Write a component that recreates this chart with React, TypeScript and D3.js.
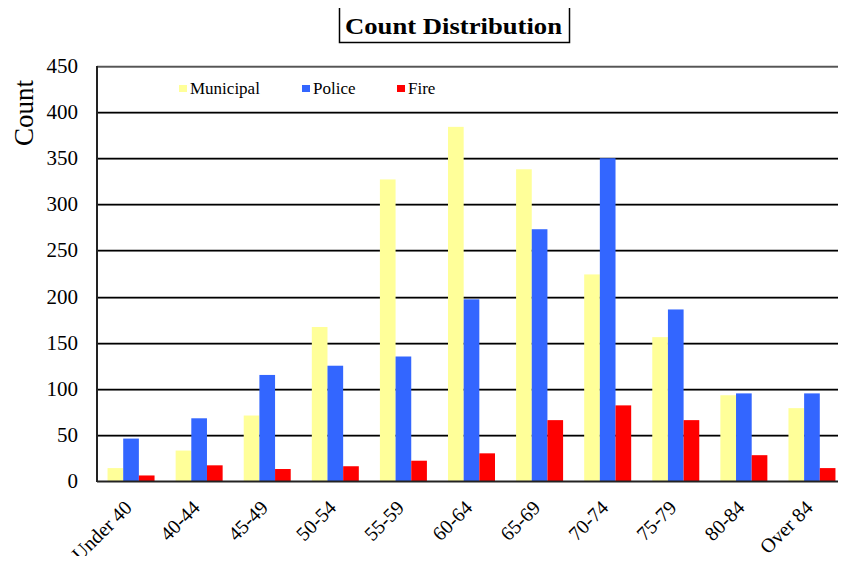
import { useEffect, useRef } from 'react';
import * as d3 from 'd3';

const categories = ['Under 40', '40-44', '45-49', '50-54', '55-59', '60-64', '65-69', '70-74', '75-79', '80-84', 'Over 84'];
const municipal = [14, 33, 71, 167, 327, 384, 338, 224, 156, 93, 79];
const police = [46, 68, 115, 125, 135, 197, 273, 350, 186, 95, 95];
const fire = [6, 17, 13, 16, 22, 30, 66, 82, 66, 28, 14];
const yTicks = [0, 50, 100, 150, 200, 250, 300, 350, 400, 450];

const seriesNames = ['Municipal', 'Police', 'Fire'];
const seriesColors = ['#FFFF99', '#3366FF', '#FF0000'];

const App = () => {
  const ref = useRef<SVGSVGElement>(null);

  useEffect(() => {
    if (!ref.current) return;
    const svg = d3.select(ref.current);
    svg.selectAll('*').remove();
    const font = '"Liberation Serif", "Times New Roman", serif';
    const left = 97, right = 846, top = 66, bottom = 481;

    const x = d3.scaleBand<string>().domain(categories).range([left, right]);
    const y = d3.scaleLinear().domain([0, 450]).range([bottom, top]);
    const inner = d3.scaleBand<number>().domain([0, 1, 2]).range([0, 47]);
    const groupOffset = (x.bandwidth() - 47) / 2;

    // title with box
    svg.append('rect')
      .attr('x', 339.5).attr('y', 6.5)
      .attr('width', 230).attr('height', 36)
      .attr('fill', 'white').attr('stroke', 'black').attr('stroke-width', 1.5);
    svg.append('text')
      .attr('x', 345).attr('y', 34)
      .attr('textLength', 217).attr('lengthAdjust', 'spacingAndGlyphs')
      .style('font-family', font).style('font-weight', 'bold').style('font-size', '24px')
      .text('Count Distribution');

    // grid lines
    const grid = svg.append('g');
    yTicks.filter(t => t > 0).forEach(t => {
      grid.append('line')
        .attr('x1', left).attr('x2', right)
        .attr('y1', Math.round(y(t)) + 1.5).attr('y2', Math.round(y(t)) + 1.5)
        .attr('stroke', '#999').attr('stroke-width', 1);
      grid.append('line')
        .attr('x1', left).attr('x2', right)
        .attr('y1', Math.round(y(t)) + 0.5).attr('y2', Math.round(y(t)) + 0.5)
        .attr('stroke', t === 450 ? '#555' : 'black').attr('stroke-width', 1.5);
    });

    // bars
    const data = [municipal, police, fire];
    data.forEach((vals, s) => {
      svg.append('g').selectAll('rect')
        .data(vals)
        .enter()
        .append('rect')
        .attr('x', (d, i) => (x(categories[i]) ?? 0) + groupOffset + (inner(s) ?? 0))
        .attr('y', d => y(d))
        .attr('width', inner.bandwidth())
        .attr('height', d => bottom - y(d))
        .attr('fill', seriesColors[s]);
    });

    // axes lines
    svg.append('line')
      .attr('x1', left).attr('x2', left).attr('y1', top).attr('y2', bottom + 1)
      .attr('stroke', '#222').attr('stroke-width', 2);
    svg.append('line')
      .attr('x1', left).attr('x2', right).attr('y1', bottom + 0.5).attr('y2', bottom + 0.5)
      .attr('stroke', '#222').attr('stroke-width', 2);

    // y tick labels
    svg.append('g').selectAll('text')
      .data(yTicks)
      .enter()
      .append('text')
      .attr('x', 78).attr('y', d => y(d) + 7)
      .attr('text-anchor', 'end')
      .style('font-family', font).style('font-size', '21px')
      .text(d => d);

    // y axis title
    svg.append('text')
      .attr('transform', 'translate(33, 113) rotate(-90)')
      .attr('text-anchor', 'middle')
      .style('font-family', font).style('font-size', '27px')
      .text('Count');

    // x tick labels, rotated
    svg.append('g').selectAll('text')
      .data(categories)
      .enter()
      .append('text')
      .attr('transform', d => `translate(${(x(d) ?? 0) + x.bandwidth() / 2 + 2}, ${bottom + 28}) rotate(-45)`)
      .attr('text-anchor', 'end')
      .style('font-family', font).style('font-size', '20px')
      .text(d => d);

    // legend
    const legendX = [179, 302, 397];
    const legend = svg.selectAll('.legend')
      .data(seriesNames)
      .enter()
      .append('g')
      .attr('class', 'legend')
      .attr('transform', (d, i) => `translate(${legendX[i]}, 85)`);
    legend.append('rect')
      .attr('width', 8).attr('height', 7)
      .attr('fill', (d, i) => seriesColors[i]);
    legend.append('text')
      .attr('x', 11).attr('y', 9)
      .style('font-family', font).style('font-size', '17px')
      .text(d => d);
  }, []);

  return (
    <div style={{ width: 846, height: 564, margin: -8 }}>
      <svg ref={ref} width={846} height={564} style={{ display: 'block', background: 'white' }} />
    </div>
  );
};

export default App;
